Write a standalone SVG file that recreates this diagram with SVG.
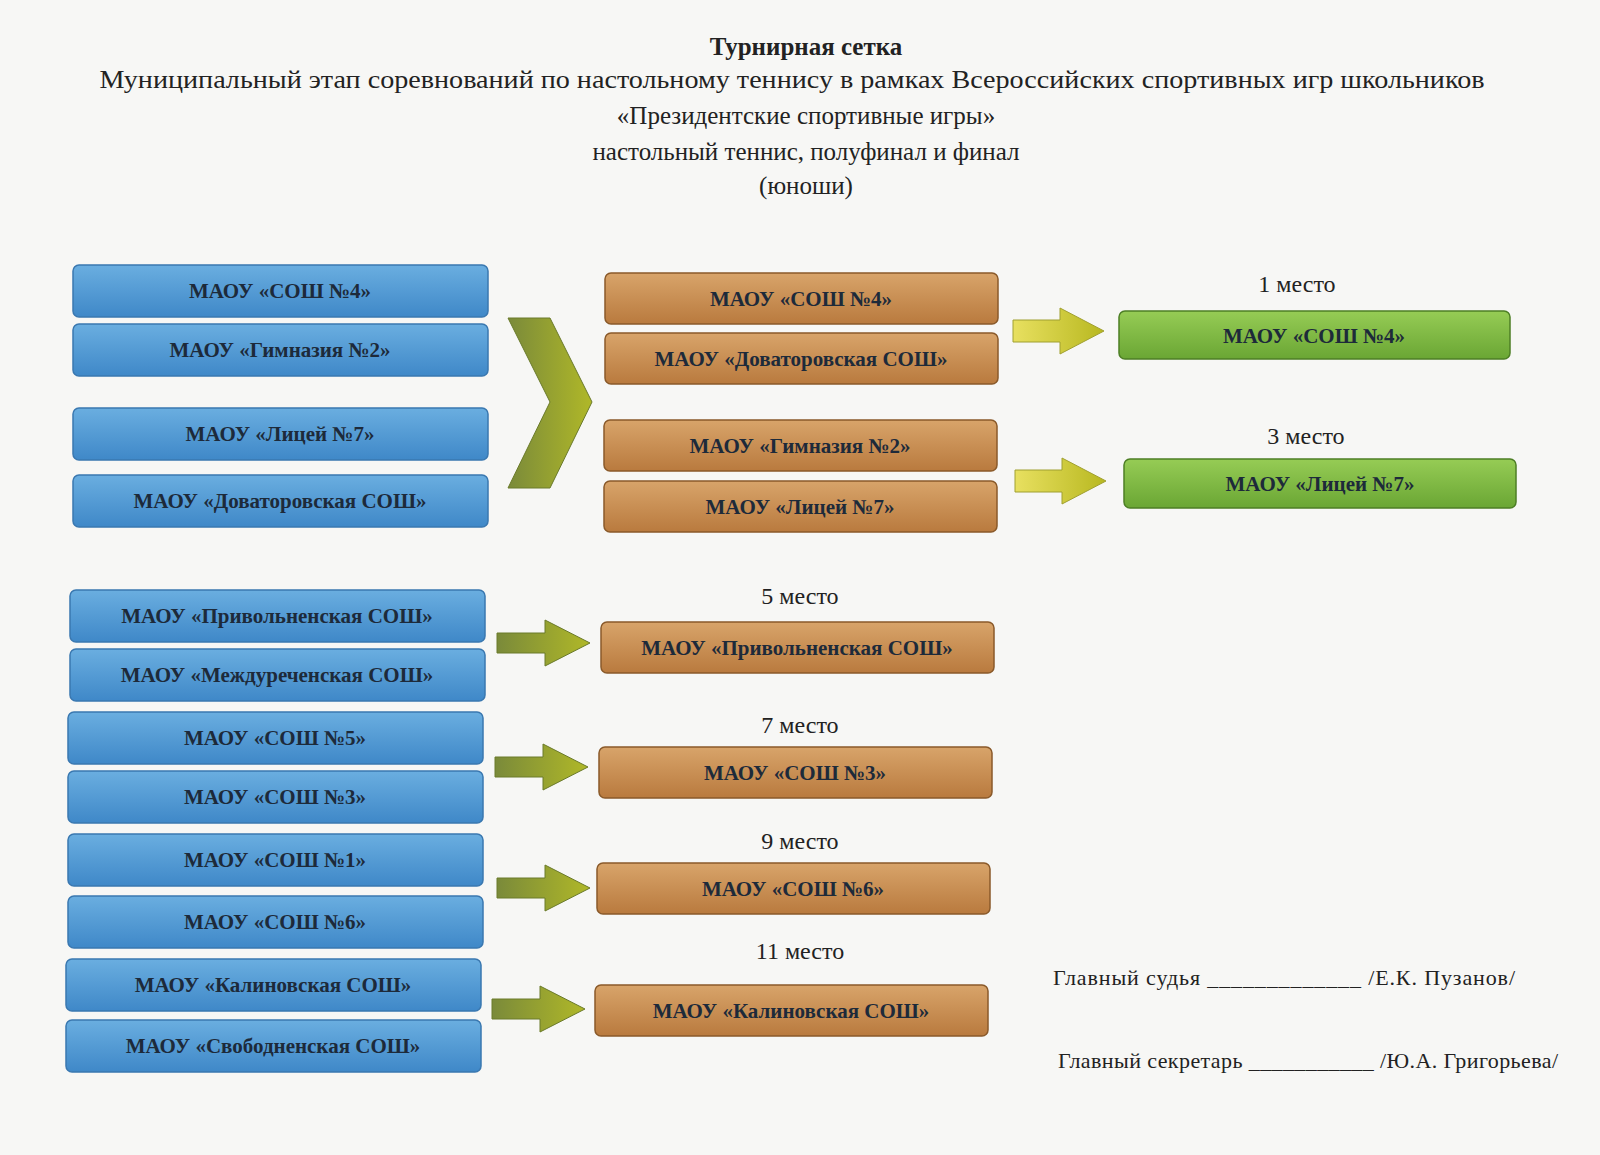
<svg xmlns="http://www.w3.org/2000/svg" width="1600" height="1155" viewBox="0 0 1600 1155">
<defs>
<linearGradient id="gb" x1="0" y1="0" x2="0" y2="1"><stop offset="0" stop-color="#6aaee0"/><stop offset="1" stop-color="#3f88c8"/></linearGradient>
<linearGradient id="gr" x1="0" y1="0" x2="0" y2="1"><stop offset="0" stop-color="#d8a46a"/><stop offset="1" stop-color="#b97a3e"/></linearGradient>
<linearGradient id="gg" x1="0" y1="0" x2="0" y2="1"><stop offset="0" stop-color="#96cc55"/><stop offset="1" stop-color="#6aa634"/></linearGradient>
<linearGradient id="gy" x1="0" y1="0" x2="1" y2="0"><stop offset="0" stop-color="#e8e060"/><stop offset="1" stop-color="#b8b820"/></linearGradient>
<linearGradient id="go" x1="0" y1="0" x2="1" y2="0"><stop offset="0" stop-color="#7a8a3a"/><stop offset="1" stop-color="#b0b828"/></linearGradient>
</defs>
<style>
.t{font-family:"Liberation Serif",serif;fill:#222;text-anchor:middle}
.b{font-family:"Liberation Serif",serif;font-weight:bold;font-size:21px;fill:#1d2a3a;text-anchor:middle}
.blue{fill:url(#gb);stroke:#3a78b0;stroke-width:1.5}
.brown{fill:url(#gr);stroke:#8a5a2a;stroke-width:1.5}
.green{fill:url(#gg);stroke:#4d7f25;stroke-width:1.5}
</style>
<rect width="1600" height="1155" fill="#f7f7f5"/>
<g id="title">
<text class="t" x="806" y="55" font-size="25" font-weight="bold">Турнирная сетка</text>
<text class="t" x="792" y="88" font-size="25" textLength="1385" lengthAdjust="spacingAndGlyphs">Муниципальный этап соревнований по настольному теннису в рамках Всероссийских спортивных игр школьников</text>
<text class="t" x="806" y="124" font-size="25">«Президентские спортивные игры»</text>
<text class="t" x="806" y="160" font-size="25">настольный теннис, полуфинал и финал</text>
<text class="t" x="806" y="194" font-size="25">(юноши)</text>
</g>
<g id="left">
<rect class="blue" x="73" y="265" width="415" height="52" rx="6"/><text class="b" x="280" y="298">МАОУ «СОШ №4»</text>
<rect class="blue" x="73" y="324" width="415" height="52" rx="6"/><text class="b" x="280" y="357">МАОУ «Гимназия №2»</text>
<rect class="blue" x="73" y="408" width="415" height="52" rx="6"/><text class="b" x="280" y="441">МАОУ «Лицей №7»</text>
<rect class="blue" x="73" y="475" width="415" height="52" rx="6"/><text class="b" x="280" y="508">МАОУ «Доваторовская СОШ»</text>
<rect class="blue" x="70" y="590" width="415" height="52" rx="6"/><text class="b" x="277" y="623">МАОУ «Привольненская СОШ»</text>
<rect class="blue" x="70" y="649" width="415" height="52" rx="6"/><text class="b" x="277" y="682">МАОУ «Междуреченская СОШ»</text>
<rect class="blue" x="68" y="712" width="415" height="52" rx="6"/><text class="b" x="275" y="745">МАОУ «СОШ №5»</text>
<rect class="blue" x="68" y="771" width="415" height="52" rx="6"/><text class="b" x="275" y="804">МАОУ «СОШ №3»</text>
<rect class="blue" x="68" y="834" width="415" height="52" rx="6"/><text class="b" x="275" y="867">МАОУ «СОШ №1»</text>
<rect class="blue" x="68" y="896" width="415" height="52" rx="6"/><text class="b" x="275" y="929">МАОУ «СОШ №6»</text>
<rect class="blue" x="66" y="959" width="415" height="52" rx="6"/><text class="b" x="273" y="992">МАОУ «Калиновская СОШ»</text>
<rect class="blue" x="66" y="1020" width="415" height="52" rx="6"/><text class="b" x="273" y="1053">МАОУ «Свободненская СОШ»</text>
</g>
<g id="middle">
<rect class="brown" x="605" y="273" width="393" height="51" rx="6"/><text class="b" x="801" y="306">МАОУ «СОШ №4»</text>
<rect class="brown" x="605" y="333" width="393" height="51" rx="6"/><text class="b" x="801" y="366">МАОУ «Доваторовская СОШ»</text>
<rect class="brown" x="604" y="420" width="393" height="51" rx="6"/><text class="b" x="800" y="453">МАОУ «Гимназия №2»</text>
<rect class="brown" x="604" y="481" width="393" height="51" rx="6"/><text class="b" x="800" y="514">МАОУ «Лицей №7»</text>
<rect class="brown" x="601" y="622" width="393" height="51" rx="6"/><text class="b" x="797" y="655">МАОУ «Привольненская СОШ»</text>
<rect class="brown" x="599" y="747" width="393" height="51" rx="6"/><text class="b" x="795" y="780">МАОУ «СОШ №3»</text>
<rect class="brown" x="597" y="863" width="393" height="51" rx="6"/><text class="b" x="793" y="896">МАОУ «СОШ №6»</text>
<rect class="brown" x="595" y="985" width="393" height="51" rx="6"/><text class="b" x="791" y="1018">МАОУ «Калиновская СОШ»</text>
</g>
<g id="final">
<rect class="green" x="1119" y="311" width="391" height="48" rx="6"/><text class="b" x="1314" y="343">МАОУ «СОШ №4»</text>
<rect class="green" x="1124" y="459" width="392" height="49" rx="6"/><text class="b" x="1320" y="491">МАОУ «Лицей №7»</text>
</g>
<g id="labels">
<text class="t" x="1297" y="292" font-size="24">1 место</text>
<text class="t" x="1306" y="444" font-size="24">3 место</text>
<text class="t" x="800" y="604" font-size="24">5 место</text>
<text class="t" x="800" y="733" font-size="24">7 место</text>
<text class="t" x="800" y="849" font-size="24">9 место</text>
<text class="t" x="800" y="959" font-size="24">11 место</text>
</g>
<g id="connectors">
<polygon points="508,318 550,318 592,402 550,488 508,488 550,402" fill="url(#go)" stroke="#6a7a2a"/>
<polygon points="1013,320 1060,320 1060,308 1104,331 1060,354 1060,342 1013,342" fill="url(#gy)" stroke="#a0a030"/>
<polygon points="1015,470 1062,470 1062,458 1106,481 1062,504 1062,492 1015,492" fill="url(#gy)" stroke="#a0a030"/>
<polygon points="497,633 545,633 545,620 590,643 545,666 545,653 497,653" fill="url(#go)" stroke="#6a7a2a"/>
<polygon points="495,757 543,757 543,744 588,767 543,790 543,777 495,777" fill="url(#go)" stroke="#6a7a2a"/>
<polygon points="497,878 545,878 545,865 590,888 545,911 545,898 497,898" fill="url(#go)" stroke="#6a7a2a"/>
<polygon points="492,999 540,999 540,986 585,1009 540,1032 540,1019 492,1019" fill="url(#go)" stroke="#6a7a2a"/>
</g>
<g id="signatures">
<text x="1053" y="985" font-family="Liberation Serif,serif" font-size="22" fill="#222" textLength="462">Главный судья _____________ /Е.К. Пузанов/</text>
<text x="1058" y="1068" font-family="Liberation Serif,serif" font-size="22" fill="#222" textLength="500">Главный секретарь ___________ /Ю.А. Григорьева/</text>
</g>
</svg>
